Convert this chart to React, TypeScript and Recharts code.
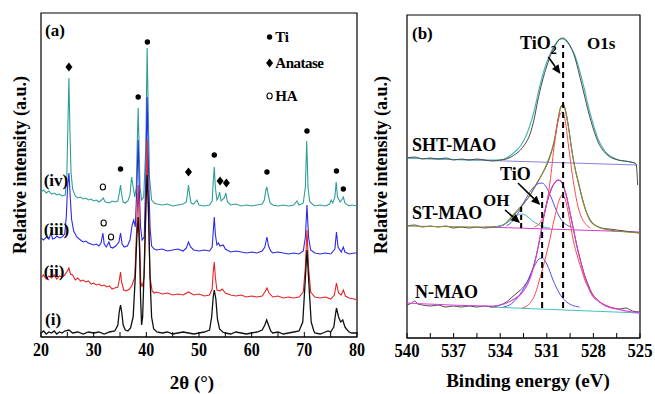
import React from "react";
import {
  ComposedChart,
  Line,
  Scatter,
  XAxis,
  YAxis,
  ReferenceArea,
  ReferenceLine,
  ReferenceDot,
} from "recharts";

const FONT = '"Liberation Serif", "Times New Roman", serif';

// ---- (a) XRD patterns: [2θ (°), relative intensity] ----
const XRD_I: [number, number][] = [
  [20, 4], [20.5, 6], [21, 3], [21.5, 5], [22, 4], [22.5, 6], [23, 3], [23.5, 5], [24, 4], [24.5, 6],
  [25.3, 7], [26, 4], [27, 5], [28, 3], [29, 5], [30, 4], [31, 5], [32, 3], [33, 5], [34, 6],
  [34.6, 12], [34.85, 25], [35.1, 32], [35.35, 24], [35.6, 12], [36, 7], [36.5, 6], [37, 9], [37.5, 20],
  [37.9, 60], [38.2, 100], [38.45, 120], [38.7, 90], [38.9, 40], [39.1, 12], [39.3, 20], [39.6, 70],
  [39.9, 130], [40.15, 162], [40.4, 130], [40.7, 60], [41, 20], [41.4, 8], [42, 5], [43, 4], [44, 5],
  [45, 3], [46, 4], [47, 5], [48, 4], [49, 3], [50, 4], [51, 5], [52, 7], [52.4, 20], [52.7, 40],
  [52.9, 47], [53.2, 38], [53.5, 18], [53.9, 8], [54.5, 5], [55, 4], [56, 3], [57, 5], [58, 4], [59, 3],
  [60, 4], [61, 5], [62, 7], [62.5, 12], [62.85, 17], [63.2, 12], [63.6, 6], [64, 4], [65, 5], [66, 3],
  [67, 4], [68, 5], [69, 6], [69.7, 15], [70.1, 50], [70.5, 87], [70.9, 50], [71.3, 15], [71.8, 6],
  [72, 4], [73, 3], [74, 5], [74.5, 6], [75, 5], [75.6, 10], [75.9, 22], [76.1, 29], [76.5, 20],
  [76.9, 15], [77.3, 17], [77.7, 10], [78, 8], [78.5, 5], [79, 4], [80, 4],
];

const XRD_II: [number, number][] = [
  [20, 59], [20.5, 62], [21, 58], [21.5, 61], [22, 59], [22.5, 62], [23, 58], [23.5, 61], [24, 60],
  [24.5, 62], [25, 66], [25.3, 69], [25.6, 63], [26, 62], [26.5, 57], [27, 59], [27.5, 56], [28, 57],
  [28.5, 55], [29, 56], [29.5, 53], [30, 54], [30.5, 52], [31, 53], [31.5, 51], [32, 52], [32.5, 50],
  [33, 51], [33.5, 48], [34, 49], [34.6, 50], [34.9, 58], [35.1, 65], [35.3, 55], [35.7, 47], [36.2, 46],
  [36.8, 48], [37.3, 52], [37.8, 60], [38.1, 100], [38.45, 152], [38.7, 100], [38.95, 55], [39.2, 50],
  [39.6, 60], [39.9, 120], [40.15, 197], [40.4, 120], [40.7, 60], [41.1, 46], [41.5, 44], [42, 45],
  [43, 43], [44, 44], [45, 42], [46, 43], [47, 42], [48, 45], [49, 42], [50, 43], [51, 41], [52, 42],
  [52.5, 48], [52.7, 65], [52.9, 75], [53.1, 60], [53.4, 47], [54, 46], [54.4, 48], [55, 44], [56, 42],
  [57, 41], [58, 42], [59, 40], [60, 41], [61, 40], [62, 41], [62.5, 45], [62.9, 49], [63.3, 44],
  [64, 40], [65, 41], [66, 39], [67, 40], [68, 39], [69, 40], [69.8, 45], [70.2, 70], [70.5, 107],
  [70.8, 70], [71.2, 45], [72, 40], [73, 39], [74, 40], [75, 38], [75.7, 42], [76.1, 54], [76.5, 44],
  [77, 42], [77.4, 47], [77.8, 41], [78.5, 39], [79.5, 38], [80, 37],
];

const XRD_III: [number, number][] = [
  [20, 99], [20.5, 97], [21, 100], [21.5, 98], [21.9, 104], [22.2, 98], [22.7, 99], [23, 101], [23.5, 99],
  [24, 100], [24.5, 103], [24.8, 120], [25.05, 150], [25.3, 164], [25.55, 140], [25.8, 118], [26.2, 106],
  [26.8, 100], [27.5, 97], [28, 95], [28.5, 96], [29, 94], [29.5, 93], [30, 92], [30.5, 93], [31, 91],
  [31.4, 94], [31.75, 104], [32, 93], [32.4, 90], [32.9, 95], [33.2, 90], [33.6, 89], [34.2, 91],
  [34.8, 95], [35.1, 104], [35.4, 93], [35.8, 90], [36.4, 91], [36.9, 97], [37.3, 112], [37.6, 117],
  [37.9, 110], [38.2, 150], [38.45, 197], [38.65, 150], [38.9, 110], [39.2, 97], [39.6, 100], [39.9, 160],
  [40.15, 240], [40.4, 170], [40.7, 110], [41, 91], [41.5, 88], [42, 87], [43, 88], [44, 86], [45, 87],
  [46, 88], [47, 86], [47.6, 89], [48, 95], [48.4, 90], [49, 87], [50, 86], [51, 87], [52, 86],
  [52.5, 90], [52.7, 105], [52.9, 120], [53.1, 103], [53.4, 92], [53.7, 94], [54, 91], [54.6, 92],
  [55, 88], [56, 85], [57, 86], [58, 85], [59, 84], [60, 85], [61, 84], [62, 86], [62.5, 90], [62.9, 100],
  [63.2, 91], [63.6, 86], [64, 84], [65, 85], [66, 84], [67, 83], [68, 84], [69, 83], [69.8, 86],
  [70.2, 100], [70.5, 132], [70.8, 100], [71.2, 87], [72, 84], [73, 83], [74, 84], [75, 83], [75.8, 88],
  [76.1, 105], [76.4, 90], [77, 85], [77.4, 90], [77.7, 85], [78.5, 83], [79.5, 84], [80, 84],
];

const XRD_IV: [number, number][] = [
  [20, 145], [20.5, 147], [21, 144], [21.5, 146], [22, 143], [22.5, 144], [23, 142], [23.5, 143],
  [24, 141], [24.6, 142], [24.9, 160], [25.1, 210], [25.3, 259], [25.5, 205], [25.7, 165], [26, 148],
  [26.5, 141], [27, 139], [27.5, 140], [28, 138], [28.5, 139], [29, 137], [29.5, 138], [30, 136],
  [30.5, 137], [31, 135], [31.5, 137], [31.8, 139], [32.2, 135], [33, 134], [33.5, 136], [34, 135],
  [34.6, 136], [34.9, 145], [35.1, 152], [35.3, 143], [35.6, 135], [36, 134], [36.5, 136], [36.9, 142],
  [37.2, 160], [37.5, 150], [37.8, 140], [38.1, 150], [38.3, 200], [38.45, 229], [38.6, 195], [38.8, 150],
  [39.1, 137], [39.5, 140], [39.9, 190], [40.15, 289], [40.35, 230], [40.6, 160], [41, 137], [41.5, 134],
  [42, 133], [43, 132], [44, 133], [45, 131], [46, 132], [47, 133], [47.6, 135], [47.85, 145], [48, 152],
  [48.2, 143], [48.5, 134], [49, 133], [49.6, 137], [50, 132], [51, 131], [52, 132], [52.5, 136],
  [52.7, 155], [52.9, 170], [53.1, 150], [53.4, 137], [53.7, 140], [53.9, 145], [54.2, 136], [54.8, 139],
  [55.1, 144], [55.4, 135], [56, 132], [57, 133], [58, 131], [59, 132], [60, 131], [61, 132], [62, 133],
  [62.4, 137], [62.7, 147], [62.9, 150], [63.1, 143], [63.5, 134], [64, 132], [65, 131], [66, 132],
  [67, 131], [68, 132], [68.6, 136], [69, 132], [69.8, 134], [70.2, 150], [70.45, 196], [70.7, 150],
  [71, 136], [71.5, 133], [72, 131], [73, 132], [74, 131], [74.8, 133], [75.1, 137], [75.4, 134],
  [75.8, 140], [76.05, 155], [76.3, 140], [76.8, 135], [77.2, 138], [77.4, 140], [77.7, 134], [78.5, 131],
  [79, 132], [80, 131],
];

// phase markers above the peaks
const TI_PEAKS: [number, number][] = [
  [35.1, 168], [38.45, 240], [40.2, 295], [52.9, 182], [62.9, 165], [70.5, 206], [76.1, 166], [77.4, 148],
];
const ANATASE_PEAKS: [number, number][] = [[25.3, 270], [48.0, 165], [54.0, 156], [55.2, 154]];
const HA_PEAKS: [number, number][] = [[31.75, 150], [31.9, 114], [33.3, 100]];

const XRD_TICKS = [20, 25, 30, 35, 40, 45, 50, 55, 60, 65, 70, 75, 80];

// ---- (b) XPS O1s: [binding energy (eV), relative intensity] ----
const SHT_RAW: [number, number][] = [
  [540, 180], [539.5, 181], [539, 179], [538.5, 180], [538, 179], [537.5, 180], [537, 178], [536.5, 179],
  [536, 178], [535.5, 179], [535, 178], [534.5, 177], [534, 178], [533.6, 179], [533.3, 181], [533, 184],
  [532.7, 188], [532.4, 194], [532.1, 203], [531.8, 220], [531.6, 236], [531.3, 256], [531, 272],
  [530.7, 285], [530.4, 294], [530.15, 299], [529.95, 300], [529.75, 298], [529.5, 292], [529.2, 281],
  [528.9, 263], [528.6, 244], [528.3, 225], [528, 209], [527.7, 196], [527.4, 188], [527.1, 183],
  [526.8, 180], [526.4, 178], [526, 177], [525.6, 176], [525.25, 174], [525.15, 153],
];
const SHT_FIT: [number, number][] = [
  [540, 180], [535, 178], [534, 178], [533.6, 180], [533.3, 183], [533, 187], [532.7, 192], [532.4, 200],
  [532.1, 212], [531.8, 228], [531.6, 242], [531.3, 261], [531, 276], [530.7, 287], [530.4, 295],
  [530.15, 299], [529.95, 299], [529.75, 297], [529.5, 292], [529.2, 283], [528.9, 268], [528.6, 250],
  [528.3, 230], [528, 213], [527.7, 199], [527.4, 190], [527.1, 184], [526.8, 181], [526.4, 178],
  [526, 177], [525.3, 175],
];
const SHT_BASE: [number, number][] = [[540, 180], [525.2, 173]];

const ST_RAW: [number, number][] = [
  [540, 112], [539.5, 113], [539, 111], [538.5, 112], [538, 111], [537.5, 112], [537, 110], [536.5, 111],
  [536, 110], [535.5, 111], [535, 110], [534.5, 111], [534, 112], [533.7, 114], [533.4, 118], [533, 125],
  [532.7, 130], [532.4, 136], [532, 145], [531.6, 156], [531.3, 164], [531, 173], [530.7, 186],
  [530.5, 198], [530.3, 216], [530.1, 231], [529.95, 234], [529.8, 228], [529.6, 211], [529.4, 189],
  [529.2, 171], [529, 158], [528.8, 145], [528.5, 128], [528.2, 118], [527.8, 112], [527.5, 110],
  [527, 109], [526.5, 108], [526, 107], [525.5, 106], [525, 105],
];
const ST_FIT: [number, number][] = [
  [540, 112], [534.5, 111], [534, 112], [533.7, 114], [533.4, 119], [533, 126], [532.6, 133],
  [532.2, 140], [531.8, 150], [531.4, 161], [531, 174], [530.7, 187], [530.5, 199], [530.3, 217],
  [530.1, 231], [529.95, 233], [529.8, 227], [529.6, 210], [529.4, 189], [529.2, 171], [529, 157],
  [528.8, 144], [528.5, 128], [528.2, 117], [527.8, 112], [527.3, 109], [526.5, 107], [525, 105],
];
const ST_BASE: [number, number][] = [[535, 111], [525, 106]];
const ST_TIO2: [number, number][] = [
  [531.8, 111], [531.4, 116], [531.1, 128], [530.8, 155], [530.5, 195], [530.3, 215], [530.1, 225],
  [530, 226], [529.85, 220], [529.6, 192], [529.4, 168], [529.2, 148], [529, 132], [528.8, 122],
  [528.5, 114], [528.2, 110],
];
const ST_TIO: [number, number][] = [
  [533.6, 112], [533.2, 117], [532.8, 126], [532.4, 138], [532, 148], [531.6, 154], [531.3, 155],
  [531, 150], [530.7, 140], [530.4, 128], [530.1, 119], [529.8, 114], [529.4, 111],
];
const ST_OH: [number, number][] = [
  [534.2, 111], [533.8, 113], [533.4, 117], [533, 122], [532.6, 124], [532.3, 122], [532, 118],
  [531.6, 114], [531.2, 111], [530.8, 110],
];

const N_RAW: [number, number][] = [
  [540, 33], [539.7, 35], [539.5, 37], [539.3, 34], [539, 33], [538.5, 32], [538, 33], [537.5, 31],
  [537, 32], [536.5, 31], [536, 32], [535.5, 31], [535, 32], [534.5, 31], [534, 33], [533.6, 36],
  [533.3, 40], [533, 44], [532.7, 48], [532.4, 53], [532.1, 61], [531.8, 75], [531.5, 95], [531.3, 112],
  [531.1, 128], [530.9, 140], [530.7, 149], [530.5, 155], [530.3, 158], [530.1, 157], [529.9, 150],
  [529.7, 140], [529.5, 125], [529.3, 110], [529.1, 95], [528.9, 82], [528.7, 70], [528.5, 60],
  [528.3, 52], [528.1, 45], [527.8, 39], [527.5, 35], [527.1, 32], [526.7, 30], [526.3, 29],
  [525.9, 30], [525.5, 27], [525, 26],
];
const N_FIT: [number, number][] = [
  [540, 35], [534.5, 32], [534, 33], [533.6, 35], [533.2, 38], [532.8, 42], [532.5, 47], [532.2, 55],
  [532, 63], [531.7, 80], [531.5, 96], [531.3, 113], [531.1, 129], [530.9, 141], [530.7, 150],
  [530.5, 155], [530.25, 158], [530, 155], [529.8, 146], [529.6, 132], [529.4, 117], [529.2, 102],
  [529, 87], [528.8, 75], [528.6, 63], [528.4, 54], [528.2, 46], [528, 41], [527.6, 36], [527.2, 32],
  [526.5, 29], [525.5, 26], [525, 25],
];
const N_BASE: [number, number][] = [[534.7, 31], [525, 25]];
const N_TIO: [number, number][] = [
  [533.8, 31], [533.4, 33], [532.9, 40], [532.3, 55], [531.8, 72], [531.5, 79], [531.3, 80], [531, 74],
  [530.6, 58], [530.2, 45], [529.8, 37], [529.4, 33], [528.9, 31],
];
const N_TIO2: [number, number][] = [
  [532.6, 30], [532.2, 33], [531.8, 42], [531.4, 62], [530.9, 92], [530.5, 120], [530.2, 138], [530, 143],
  [529.8, 138], [529.6, 124], [529.3, 98], [529, 80], [528.8, 70], [528.5, 56], [528.2, 47], [527.8, 39],
  [527.4, 34], [527, 31], [526.6, 29],
];

const XPS_TICKS = [540, 538.5, 537, 535.5, 534, 532.5, 531, 529.5, 528, 526.5, 525];

const pts = (arr: [number, number][]) => arr.map(([x, y]) => ({ x, y }));

// ---- shapes ----
const dotShape = (p: any) => <circle cx={p.cx} cy={p.cy} r={2.7} fill="#000" />;
const diamondShape = (p: any) => (
  <polygon
    points={`${p.cx},${p.cy - 4.5} ${p.cx + 3.5},${p.cy} ${p.cx},${p.cy + 4.5} ${p.cx - 3.5},${p.cy}`}
    fill="#000"
  />
);
const ringShape = (p: any) => (
  <ellipse cx={p.cx} cy={p.cy} rx={2.6} ry={3} fill="none" stroke="#000" strokeWidth={1.1} />
);

const textShape = (content: React.ReactNode, size: number, extra: any = {}) => (p: any) => (
  <text
    x={p.cx}
    y={p.cy}
    dy="0.35em"
    textAnchor="start"
    fontFamily={FONT}
    fontWeight="bold"
    fontSize={size}
    fill="#000"
    {...extra}
  >
    {content}
  </text>
);

const arrowShape = (p: any) => {
  const { x1, y1, x2, y2 } = p;
  const a = Math.atan2(y2 - y1, x2 - x1);
  const L = 9;
  const W = 4;
  const bx = x2 - L * Math.cos(a);
  const by = y2 - L * Math.sin(a);
  const tri = `${x2},${y2} ${bx + W * Math.sin(a)},${by - W * Math.cos(a)} ${bx - W * Math.sin(a)},${by + W * Math.cos(a)}`;
  return (
    <g>
      <line x1={x1} y1={y1} x2={bx} y2={by} stroke="#000" strokeWidth={1.6} />
      <polygon points={tri} fill="#000" />
    </g>
  );
};

const makeTick = (show: (v: number) => boolean, len: number) => (p: any) => {
  const v = p.payload.value;
  if (!show(v)) return <g />;
  return (
    <text
      x={p.x}
      y={p.y}
      dy={16}
      textAnchor="middle"
      fontFamily={FONT}
      fontWeight="bold"
      fontSize={19}
      fill="#000"
      textLength={len}
      lengthAdjust="spacingAndGlyphs"
    >
      {v}
    </text>
  );
};

const yTitle = (dx: number, dyc: number) => (p: any) => {
  const vb = p.viewBox;
  const cx = vb.x + dx;
  const cy = vb.y + vb.height / 2 + dyc;
  return (
    <text
      transform={`translate(${cx},${cy}) rotate(-90)`}
      textAnchor="middle"
      dy="0.35em"
      fontFamily={FONT}
      fontWeight="bold"
      fontSize={18}
      fill="#000"
    >
      Relative intensity (a.u.)
    </text>
  );
};

const xTitle = (text: string, dx: number, base: number) => (p: any) => {
  const vb = p.viewBox;
  return (
    <text
      x={vb.x + vb.width / 2 + dx}
      y={vb.y + base}
      textAnchor="middle"
      fontFamily={FONT}
      fontWeight="bold"
      fontSize={19}
      fill="#000"
    >
      {text}
    </text>
  );
};

function XrdPanel() {
  return (
    <ComposedChart width={370} height={394} margin={{ top: 13, right: 13, bottom: 0, left: 0 }}>
      <XAxis
        type="number"
        dataKey="x"
        domain={[20, 80]}
        ticks={XRD_TICKS}
        interval={0}
        height={57}
        tickSize={-5}
        tickMargin={8}
        axisLine={{ stroke: "#000", strokeWidth: 1.2 }}
        tickLine={{ stroke: "#000" }}
        tick={makeTick((v) => v % 10 === 0, 16)}
        label={{ content: xTitle("2θ (°)", -7, 52) }}
      />
      <YAxis
        type="number"
        dataKey="y"
        domain={[0, 324]}
        width={41}
        tick={false}
        axisLine={false}
        label={{ content: yTitle(20, -10) }}
      />
      <ReferenceArea x1={20} x2={80} y1={0} y2={324} fill="none" stroke="#000" strokeWidth={1.2} ifOverflow="visible" />
      <Line data={pts(XRD_IV)} dataKey="y" type="linear" stroke="#2e9e96" strokeWidth={1.1} dot={false} isAnimationActive={false} />
      <Line data={pts(XRD_III)} dataKey="y" type="linear" stroke="#2a2ae8" strokeWidth={1.1} dot={false} isAnimationActive={false} />
      <Line data={pts(XRD_II)} dataKey="y" type="linear" stroke="#e82222" strokeWidth={1.1} dot={false} isAnimationActive={false} />
      <Line data={pts(XRD_I)} dataKey="y" type="linear" stroke="#111" strokeWidth={1.3} dot={false} isAnimationActive={false} />
      <Scatter data={pts(TI_PEAKS)} dataKey="y" shape={dotShape} isAnimationActive={false} />
      <Scatter data={pts(ANATASE_PEAKS)} dataKey="y" shape={diamondShape} isAnimationActive={false} />
      <Scatter data={pts(HA_PEAKS)} dataKey="y" shape={ringShape} isAnimationActive={false} />

      {/* legend */}
      <ReferenceDot x={63.4} y={300} shape={dotShape} />
      <ReferenceDot x={63.4} y={274} shape={diamondShape} />
      <ReferenceDot x={63.4} y={241} shape={ringShape} />
      <ReferenceDot x={64.5} y={300} shape={textShape("Ti", 15, { letterSpacing: -0.4 })} />
      <ReferenceDot x={64.5} y={274} shape={textShape("Anatase", 15, { letterSpacing: -0.5 })} />
      <ReferenceDot x={64.5} y={241} shape={textShape("HA", 15, { letterSpacing: -0.4 })} />

      {/* panel and pattern labels */}
      <ReferenceDot x={20.76} y={307} shape={textShape("(a)", 17)} />
      <ReferenceDot x={20.5} y={157} shape={textShape("(iv)", 17)} />
      <ReferenceDot x={20.5} y={108} shape={textShape("(iii)", 17)} />
      <ReferenceDot x={20.5} y={66} shape={textShape("(ii)", 17)} />
      <ReferenceDot x={20.76} y={18} shape={textShape("(i)", 17)} />
    </ComposedChart>
  );
}

function XpsPanel() {
  return (
    <ComposedChart width={285} height={394} margin={{ top: 15, right: 15, bottom: 0, left: 0 }}>
      <XAxis
        type="number"
        dataKey="x"
        domain={[525, 540]}
        reversed
        ticks={XPS_TICKS}
        interval={0}
        height={56}
        tickSize={-5}
        tickMargin={8}
        axisLine={{ stroke: "#000", strokeWidth: 1.2 }}
        tickLine={{ stroke: "#000" }}
        tick={makeTick((v) => Number.isInteger(v), 25)}
        label={{ content: xTitle("Binding energy (eV)", 4.5, 49) }}
      />
      <YAxis
        type="number"
        dataKey="y"
        domain={[0, 323]}
        width={37}
        tick={false}
        axisLine={false}
        label={{ content: yTitle(11, -11.5) }}
      />
      <ReferenceArea x1={525} x2={540} y1={0} y2={323} fill="none" stroke="#000" strokeWidth={1.2} ifOverflow="visible" />

      {/* SHT-MAO */}
      <Line data={pts(SHT_BASE)} dataKey="y" type="linear" stroke="#8a7fe0" strokeWidth={1} dot={false} isAnimationActive={false} />
      <Line data={pts(SHT_FIT)} dataKey="y" type="monotone" stroke="#3fb5b0" strokeWidth={1.1} dot={false} isAnimationActive={false} />
      <Line data={pts(SHT_RAW)} dataKey="y" type="monotone" stroke="#4a4a4a" strokeWidth={1} dot={false} isAnimationActive={false} />

      {/* ST-MAO */}
      <Line data={pts(ST_BASE)} dataKey="y" type="linear" stroke="#d23cd2" strokeWidth={1} dot={false} isAnimationActive={false} />
      <Line data={pts(ST_RAW)} dataKey="y" type="monotone" stroke="#4a4a4a" strokeWidth={1} dot={false} isAnimationActive={false} />
      <Line data={pts(ST_FIT)} dataKey="y" type="monotone" stroke="#8e8a3a" strokeWidth={1.1} dot={false} isAnimationActive={false} />
      <Line data={pts(ST_OH)} dataKey="y" type="monotone" stroke="#45b0b0" strokeWidth={1} dot={false} isAnimationActive={false} />
      <Line data={pts(ST_TIO)} dataKey="y" type="monotone" stroke="#5050ee" strokeWidth={1} dot={false} isAnimationActive={false} />
      <Line data={pts(ST_TIO2)} dataKey="y" type="monotone" stroke="#ff4a4a" strokeWidth={1} dot={false} isAnimationActive={false} />

      {/* N-MAO */}
      <Line data={pts(N_BASE)} dataKey="y" type="linear" stroke="#45c0c0" strokeWidth={1} dot={false} isAnimationActive={false} />
      <Line data={pts(N_RAW)} dataKey="y" type="monotone" stroke="#4a4a4a" strokeWidth={1} dot={false} isAnimationActive={false} />
      <Line data={pts(N_TIO)} dataKey="y" type="monotone" stroke="#5050ee" strokeWidth={1} dot={false} isAnimationActive={false} />
      <Line data={pts(N_TIO2)} dataKey="y" type="monotone" stroke="#ff4a4a" strokeWidth={1} dot={false} isAnimationActive={false} />
      <Line data={pts(N_FIT)} dataKey="y" type="monotone" stroke="#dd3ddd" strokeWidth={1.1} dot={false} isAnimationActive={false} />

      {/* peak positions */}
      <ReferenceLine segment={[{ x: 529.95, y: 30 }, { x: 529.95, y: 293 }]} stroke="#000" strokeWidth={2} strokeDasharray="6 4" />
      <ReferenceLine segment={[{ x: 531.3, y: 30 }, { x: 531.3, y: 150 }]} stroke="#000" strokeWidth={2} strokeDasharray="6 4" />
      <ReferenceLine segment={[{ x: 532.65, y: 110 }, { x: 532.65, y: 133 }]} stroke="#000" strokeWidth={2} strokeDasharray="5 3" />

      {/* arrows */}
      <ReferenceLine segment={[{ x: 530.9, y: 281 }, { x: 530.12, y: 264 }]} shape={arrowShape} />
      <ReferenceLine segment={[{ x: 532.86, y: 155 }, { x: 531.42, y: 133 }]} shape={arrowShape} />
      <ReferenceLine segment={[{ x: 533.69, y: 128 }, { x: 532.72, y: 115 }]} shape={arrowShape} />

      {/* labels */}
      <ReferenceDot x={539.68} y={305} shape={textShape("(b)", 17)} />
      <ReferenceDot
        x={532.72}
        y={295}
        shape={textShape(
          <>
            TiO
            <tspan dy={5} fontSize={12}>
              2
            </tspan>
          </>,
          18
        )}
      />
      <ReferenceDot x={528.41} y={295} shape={textShape("O1s", 17)} />
      <ReferenceDot x={539.68} y={193} shape={textShape("SHT-MAO", 18)} />
      <ReferenceDot x={534.01} y={164} shape={textShape("TiO", 18)} />
      <ReferenceDot x={535.11} y={138} shape={textShape("OH", 17)} />
      <ReferenceDot x={539.68} y={125} shape={textShape("ST-MAO", 18)} />
      <ReferenceDot x={539.48} y={46} shape={textShape("N-MAO", 18)} />
    </ComposedChart>
  );
}

export default function App() {
  return (
    <div style={{ position: "absolute", left: 0, top: 0, width: 655, height: 394, background: "#fff" }}>
      <div style={{ position: "absolute", left: 0, top: 0 }}>
        <XrdPanel />
      </div>
      <div style={{ position: "absolute", left: 370, top: 0 }}>
        <XpsPanel />
      </div>
    </div>
  );
}
